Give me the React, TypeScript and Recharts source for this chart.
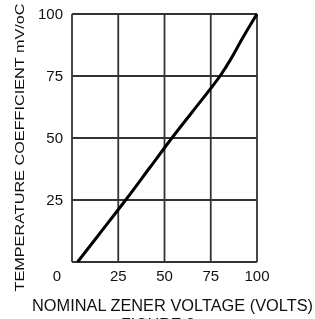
import React from "react";
import { LineChart, Line, XAxis, YAxis, CartesianGrid } from "recharts";

const voltage = [3, 15, 29, 42, 54, 65, 75, 80.5, 86, 92, 100];
const tempCoeff = [0, 11.5, 25, 38, 50, 60.5, 70, 75.5, 82, 90, 100];
const xTicks = [0, 25, 50, 75, 100];
const yTicks = [0, 25, 50, 75, 100];
const xTitle = "NOMINAL ZENER VOLTAGE (VOLTS)";
const yTitle = "TEMPERATURE COEFFICIENT mV/oC";
const figureCaption = "FIGURE 2";

const data = voltage.map((v, i) => ({ v, t: tempCoeff[i] }));

const FONT = "'Liberation Sans', Arial, sans-serif";

const XTick = (props: any) => {
  const { x, y, payload } = props;
  const dx = payload.value === 0 ? -15 : 0;
  return (
    <text x={x + dx} y={y} dy="0.71em" textAnchor="middle" fontSize={15} fontFamily={FONT} fill="#111">
      {payload.value}
    </text>
  );
};

const YTick = (props: any) => {
  const { x, y, payload } = props;
  if (payload.value === 0) return null;
  return (
    <text x={x} y={y} dy="0.355em" textAnchor="end" fontSize={15} fontFamily={FONT} fill="#111">
      {payload.value}
    </text>
  );
};

export default function App() {
  return (
    <div style={{ position: "fixed", left: 0, top: 0, width: 315, height: 330 }}>
      <LineChart
        width={315}
        height={330}
        data={data}
        margin={{ top: 14, right: 58, bottom: 38, left: 0 }}
      >
        <CartesianGrid stroke="#333" strokeWidth={1.8} horizontalValues={yTicks} verticalValues={xTicks} />
        <XAxis
          type="number"
          dataKey="v"
          domain={[0, 100]}
          ticks={xTicks}
          height={30}
          axisLine={false}
          tickLine={false}
          tickSize={0}
          tickMargin={8}
          tick={<XTick />}
          interval={0}
          label={() => (
            <g>
              <text
                x={172.5}
                y={305}
                dy="0.35em"
                textAnchor="middle"
                fontSize={16}
                fontFamily={FONT}
                fill="#111"
                textLength={281}
                lengthAdjust="spacingAndGlyphs"
              >
                {xTitle}
              </text>
              <text x={158} y={330} textAnchor="middle" fontSize={16} fontFamily={FONT} fill="#111">
                {figureCaption}
              </text>
            </g>
          )}
        />
        <YAxis
          type="number"
          domain={[0, 100]}
          ticks={yTicks}
          width={72}
          axisLine={false}
          tickLine={false}
          tickSize={0}
          tickMargin={9}
          tick={<YTick />}
          interval={0}
          label={() => (
            <text
              x={19}
              y={147.5}
              dy="0.35em"
              textAnchor="middle"
              fontSize={13}
              fontFamily={FONT}
              fill="#111"
              textLength={288}
              lengthAdjust="spacingAndGlyphs"
              transform="rotate(-90 19 147.5)"
            >
              {yTitle}
            </text>
          )}
        />
        <Line
          type="monotone"
          dataKey="t"
          stroke="#000"
          strokeWidth={3}
          dot={false}
          isAnimationActive={false}
        />
      </LineChart>
    </div>
  );
}
